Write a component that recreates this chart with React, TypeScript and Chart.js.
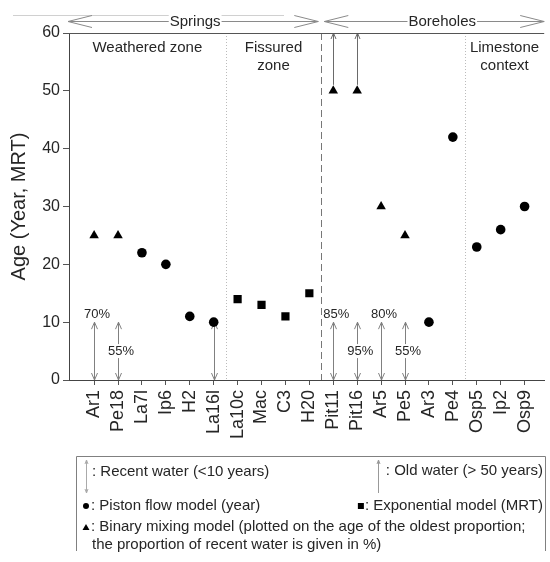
import React, { useEffect, useRef } from 'react';
import { Chart, registerables } from 'chart.js';
Chart.register(...registerables);

// ---------- data ----------
const categories = ['Ar1', 'Pe18', 'La7l', 'Ip6', 'H2', 'La16l', 'La10c', 'Mac', 'C3', 'H20', 'Pit11', 'Pit16', 'Ar5', 'Pe5', 'Ar3', 'Pe4', 'Osp5', 'Ip2', 'Osp9'];
// Piston flow model (year)
const pistonAges = [null, null, 22, 20, 11, 10, null, null, null, null, null, null, null, null, 10, 42, 23, 26, 30];
// Exponential model (MRT)
const exponentialMRT = [null, null, null, null, null, null, 14, 13, 11, 15, null, null, null, null, null, null, null, null, null];
// Binary mixing model (age of the oldest proportion)
const binaryAges = [25, 25, null, null, null, null, null, null, null, null, 50, 50, 30, 25, null, null, null, null, null];
// proportion of recent water (%)
const recentPct = [70, 55, null, null, null, null, null, null, null, null, 85, 95, 80, 55, null, null, null, null, null];
const pctPlacement = ['top', 'mid', null, null, null, null, null, null, null, null, 'top', 'mid', 'top', 'mid', null, null, null, null, null];
// recent water (<10 years): arrow from 0 up to this age
const recentWaterTop = [10, 10, null, null, null, 10, null, null, null, null, 10, 10, 10, 10, null, null, null, null, null];
// old water (> 50 years): arrow from this age up to the top of the axis
const oldWaterFrom = [null, null, null, null, null, null, null, null, null, null, 50, 50, null, null, null, null, null, null, null];

const yMin = 0;
const yMax = 60;
const yStep = 10;

// zones (in category-position units)
const dividers = [6.5, 10.5, 16.5];
const dividerKinds = ['dotted', 'dashed', 'dotted'];
const zoneLabels = [['Weathered zone'], ['Fissured', 'zone'], ['Limestone', 'context']];
const zoneFrom = ['min', 6.5, 16.5];
const zoneTo = [6.5, 10.5, 'max'];
const groupLabels = ['Springs', 'Boreholes'];
const groupFrom = ['min', 10.5];
const groupTo = [10.5, 'max'];

const legendRecent = ': Recent water (<10 years)';
const legendOld = ': Old water (> 50 years)';
const legendPiston = ': Piston flow model (year)';
const legendExp = ': Exponential model (MRT)';
const legendBinary1 = ': Binary mixing model (plotted on the age of the oldest proportion;';
const legendBinary2 = 'the proportion of recent water is given in %)';

const FONT = '"Liberation Sans", Arial, Helvetica, sans-serif';
const TEXT = '#262626';

function toPoints(arr: (number | null)[]) {
  const out: { x: number; y: number }[] = [];
  arr.forEach((v, i) => {
    if (v != null) out.push({ x: i + 1, y: v });
  });
  return out;
}

function vHead(ctx: CanvasRenderingContext2D, x: number, y: number, up: boolean, len = 7, half = 3) {
  const d = up ? len : -len;
  ctx.beginPath();
  ctx.moveTo(x - half, y + d);
  ctx.lineTo(x, y);
  ctx.lineTo(x + half, y + d);
  ctx.stroke();
}

function hHead(ctx: CanvasRenderingContext2D, x: number, y: number, left: boolean, len = 24, half = 6) {
  const d = left ? len : -len;
  ctx.beginPath();
  ctx.moveTo(x + d, y - half);
  ctx.lineTo(x, y);
  ctx.lineTo(x + d, y + half);
  ctx.stroke();
}

const annotations = {
  id: 'annotations',
  beforeDatasetsDraw(chart: any) {
    const ctx: CanvasRenderingContext2D = chart.ctx;
    const xs = chart.scales.x;
    const ys = chart.scales.y;
    const area = chart.chartArea;
    const resolve = (v: any) => (v === 'min' ? xs.min : v === 'max' ? xs.max : v);
    ctx.save();
    // dividers
    dividers.forEach((d, i) => {
      const px = Math.round(xs.getPixelForValue(d)) + 0.5;
      ctx.beginPath();
      if (dividerKinds[i] === 'dashed') {
        ctx.setLineDash([7, 4]);
        ctx.strokeStyle = '#777';
      } else {
        ctx.setLineDash([1, 2]);
        ctx.strokeStyle = '#bbb';
      }
      ctx.lineWidth = 1;
      ctx.moveTo(px, area.top);
      ctx.lineTo(px, area.bottom);
      ctx.stroke();
    });
    ctx.setLineDash([]);
    // zone labels
    ctx.fillStyle = TEXT;
    ctx.font = `15px ${FONT}`;
    ctx.textAlign = 'center';
    ctx.textBaseline = 'middle';
    zoneLabels.forEach((lines, i) => {
      const cx = (xs.getPixelForValue(resolve(zoneFrom[i])) + xs.getPixelForValue(resolve(zoneTo[i]))) / 2;
      lines.forEach((t, j) => ctx.fillText(t, cx, area.top + 15 + j * 18));
    });
    // recent water arrows
    ctx.strokeStyle = '#808080';
    ctx.lineWidth = 1;
    recentWaterTop.forEach((top, i) => {
      if (top == null) return;
      const px = Math.round(xs.getPixelForValue(i + 1)) + 0.5;
      const y0 = ys.getPixelForValue(0);
      const y1 = ys.getPixelForValue(top);
      ctx.beginPath();
      ctx.moveTo(px, y0);
      ctx.lineTo(px, y1);
      ctx.stroke();
      vHead(ctx, px, y1, true);
      vHead(ctx, px, y0, false);
    });
    // old water arrows
    ctx.strokeStyle = '#6a6a6a';
    oldWaterFrom.forEach((from, i) => {
      if (from == null) return;
      const px = Math.round(xs.getPixelForValue(i + 1)) + 0.5;
      const y0 = ys.getPixelForValue(from) - 6;
      const y1 = ys.getPixelForValue(yMax);
      ctx.beginPath();
      ctx.moveTo(px, y0);
      ctx.lineTo(px, y1);
      ctx.stroke();
      vHead(ctx, px, y1, true, 6, 2.5);
    });
    // percent labels
    ctx.font = `13px ${FONT}`;
    ctx.textAlign = 'center';
    recentPct.forEach((p, i) => {
      if (p == null) return;
      const cx = xs.getPixelForValue(i + 1) + 3;
      const label = `${p}%`;
      if (pctPlacement[i] === 'top') {
        ctx.textBaseline = 'bottom';
        ctx.fillStyle = TEXT;
        ctx.fillText(label, cx, ys.getPixelForValue(recentWaterTop[i] as number) - 1);
      } else {
        const cy = ys.getPixelForValue(5);
        const w = ctx.measureText(label).width;
        ctx.fillStyle = '#fff';
        ctx.fillRect(cx - w / 2 - 1, cy - 7, w + 2, 14);
        ctx.fillStyle = TEXT;
        ctx.textBaseline = 'middle';
        ctx.fillText(label, cx, cy);
      }
    });
    ctx.restore();
  },
  afterDraw(chart: any) {
    const ctx: CanvasRenderingContext2D = chart.ctx;
    const xs = chart.scales.x;
    const area = chart.chartArea;
    const resolve = (v: any) => (v === 'min' ? xs.min : v === 'max' ? xs.max : v);
    ctx.save();
    // top frame line
    ctx.strokeStyle = '#555';
    ctx.lineWidth = 1;
    ctx.beginPath();
    ctx.moveTo(area.left, Math.round(area.top) + 0.5);
    ctx.lineTo(area.right, Math.round(area.top) + 0.5);
    ctx.stroke();
    // faint line at very top
    ctx.strokeStyle = '#d0d0d0';
    ctx.beginPath();
    ctx.moveTo(13, 15.5);
    ctx.lineTo(284, 15.5);
    ctx.stroke();
    // group arrows
    const hy = 21.5;
    ctx.font = `15px ${FONT}`;
    ctx.textAlign = 'center';
    ctx.textBaseline = 'middle';
    groupLabels.forEach((t, i) => {
      let x0 = xs.getPixelForValue(resolve(groupFrom[i]));
      let x1 = xs.getPixelForValue(resolve(groupTo[i]));
      x0 += i === 0 ? -1 : 3;
      x1 -= i === 0 ? 3 : 0;
      ctx.strokeStyle = '#8a8a8a';
      ctx.beginPath();
      ctx.moveTo(x0, hy);
      ctx.lineTo(x1, hy);
      ctx.stroke();
      hHead(ctx, x0, hy, true);
      hHead(ctx, x1, hy, false);
      const cx = (x0 + x1) / 2 + (i === 0 ? 2 : 8);
      const w = ctx.measureText(t).width;
      ctx.fillStyle = '#fff';
      ctx.fillRect(cx - w / 2 - 1, hy - 8, w + 2, 16);
      ctx.fillStyle = TEXT;
      ctx.fillText(t, cx, hy);
    });
    // legend box
    ctx.strokeStyle = '#808080';
    ctx.lineWidth = 1;
    ctx.beginPath();
    ctx.moveTo(76.5, 551);
    ctx.lineTo(76.5, 456.5);
    ctx.lineTo(545.5, 456.5);
    ctx.lineTo(545.5, 551);
    ctx.stroke();
    // recent water icon
    ctx.strokeStyle = '#aaa';
    ctx.beginPath();
    ctx.moveTo(86.5, 460);
    ctx.lineTo(86.5, 493);
    ctx.stroke();
    vHead(ctx, 86.5, 460, true, 4, 1.5);
    vHead(ctx, 86.5, 493, false, 4, 1.5);
    // old water icon
    ctx.strokeStyle = '#999';
    ctx.beginPath();
    ctx.moveTo(378.5, 460);
    ctx.lineTo(378.5, 493);
    ctx.stroke();
    vHead(ctx, 378.5, 460, true, 4, 1.5);
    ctx.fillStyle = TEXT;
    ctx.font = `15px ${FONT}`;
    ctx.textBaseline = 'middle';
    ctx.textAlign = 'left';
    ctx.fillText(legendRecent, 92, 472);
    ctx.textAlign = 'right';
    ctx.fillText(legendOld, 543, 471);
    // piston
    ctx.fillStyle = '#000';
    ctx.beginPath();
    ctx.arc(86, 506, 3, 0, Math.PI * 2);
    ctx.fill();
    ctx.fillStyle = TEXT;
    ctx.textAlign = 'left';
    ctx.fillText(legendPiston, 91, 506);
    // exponential
    ctx.textAlign = 'right';
    const ew = ctx.measureText(legendExp).width;
    ctx.fillText(legendExp, 543, 506);
    ctx.fillStyle = '#000';
    ctx.fillRect(543 - ew - 7, 503, 6, 6);
    // binary
    ctx.beginPath();
    ctx.moveTo(86, 524);
    ctx.lineTo(89.5, 530);
    ctx.lineTo(82.5, 530);
    ctx.closePath();
    ctx.fill();
    ctx.fillStyle = TEXT;
    ctx.textAlign = 'left';
    ctx.fillText(legendBinary1, 91, 527);
    ctx.fillText(legendBinary2, 92, 545);
    ctx.restore();
  },
};

export default function App() {
  const ref = useRef<HTMLCanvasElement | null>(null);
  useEffect(() => {
    if (!ref.current) return;
    const chart = new Chart(ref.current, {
      type: 'scatter',
      data: {
        datasets: [
          {
            label: 'Piston flow model (year)',
            data: toPoints(pistonAges),
            pointStyle: 'circle',
            pointRadius: 4.8,
            backgroundColor: '#000',
            borderColor: '#000',
            borderWidth: 0,
          },
          {
            label: 'Exponential model (MRT)',
            data: toPoints(exponentialMRT),
            pointStyle: 'rect',
            pointRadius: 5.8,
            backgroundColor: '#000',
            borderColor: '#000',
            borderWidth: 0,
          },
          {
            label: 'Binary mixing model',
            data: toPoints(binaryAges),
            pointStyle: 'triangle',
            pointRadius: 5.5,
            backgroundColor: '#000',
            borderColor: '#000',
            borderWidth: 0,
          },
        ],
      },
      options: {
        responsive: false,
        animation: false,
        layout: { padding: { top: 33, right: 2, left: 0, bottom: 0 } },
        plugins: { legend: { display: false }, tooltip: { enabled: false } },
        scales: {
          x: {
            type: 'linear',
            min: -0.05,
            max: 19.82,
            afterBuildTicks: (s: any) => {
              s.ticks = categories.map((_, i) => ({ value: i + 1 }));
            },
            afterFit: (s: any) => {
              s.height = 182;
              s.paddingLeft = 0;
              s.paddingRight = 0;
            },
            ticks: {
              autoSkip: false,
              minRotation: 90,
              maxRotation: 90,
              padding: 5,
              color: TEXT,
              font: { family: FONT, size: 18 },
              callback: (v: any) => categories[Math.round(v) - 1] ?? '',
            },
            grid: { drawOnChartArea: false, drawTicks: true, tickLength: 5, color: '#555' },
            border: { display: true, color: '#444' },
          },
          y: {
            type: 'linear',
            min: yMin,
            max: yMax,
            afterFit: (s: any) => {
              s.width = 69;
              s.paddingTop = 0;
              s.paddingBottom = 0;
            },
            ticks: {
              stepSize: yStep,
              padding: 3,
              color: TEXT,
              font: { family: FONT, size: 16 },
            },
            grid: { drawOnChartArea: false, drawTicks: true, tickLength: 6, color: '#555' },
            border: { display: true, color: '#444' },
            title: {
              display: true,
              text: 'Age (Year, MRT)',
              color: TEXT,
              font: { family: FONT, size: 20 },
              padding: { top: 7, bottom: 0 },
            },
          },
        },
      },
      plugins: [annotations],
    } as any);
    return () => chart.destroy();
  }, []);
  return (
    <div style={{ position: 'absolute', left: 0, top: 0, width: 550, height: 562, background: '#fff' }}>
      <canvas ref={ref} width={550} height={562} style={{ display: 'block' }} />
    </div>
  );
}
